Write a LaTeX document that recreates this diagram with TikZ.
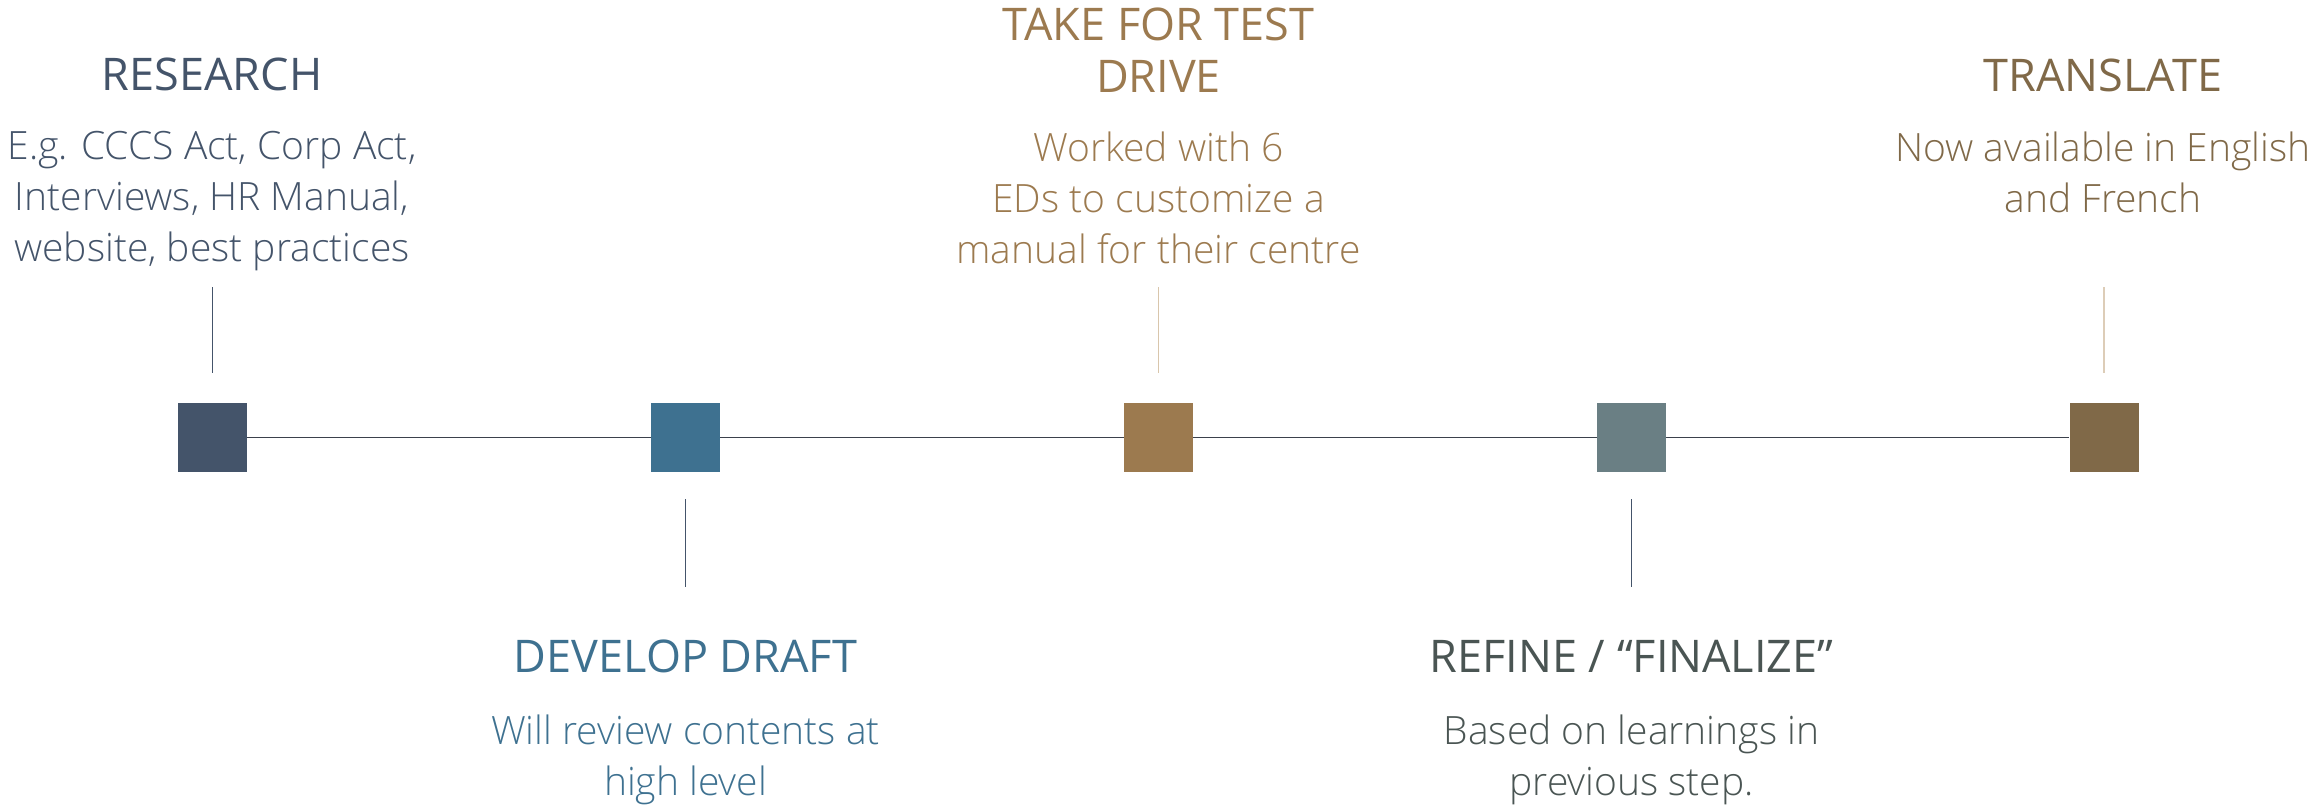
\documentclass[tikz,border=0pt]{standalone}
\usepackage{fontspec}
\setmainfont{Open Sans Light}
\newfontfamily\headfont{Open Sans}
\definecolor{cA}{HTML}{44546A}
\definecolor{cB}{HTML}{3E7190}
\definecolor{cC}{HTML}{9C7A4F}
\definecolor{cD}{HTML}{6A7F84}
\definecolor{cE}{HTML}{806948}
\definecolor{tD}{HTML}{4A5553}
\definecolor{lC}{HTML}{D9C6AC}
\definecolor{lE}{HTML}{DDCDB8}
\definecolor{tl}{HTML}{3B414C}
\begin{document}
\begin{tikzpicture}[x=1pt,y=-1pt,
  sq/.style={minimum size=69pt,inner sep=0pt,draw=none},
  head/.style={font=\headfont\fontsize{45}{52}\selectfont,align=center,anchor=base,inner sep=0pt},
  body/.style={font=\fontsize{39}{51}\selectfont,align=center,anchor=base,inner sep=0pt},
  tline/.style={draw=tl,line width=1.7pt},
  lnk/.style={line width=1.3pt}]
\useasboundingbox (0,0) rectangle (2310,804);
% squares
\node[sq,fill=cA] (s1) at (212.5,437.5) {};
\node[sq,fill=cB] (s2) at (685.5,437.5) {};
\node[sq,fill=cC] (s3) at (1158.5,437.5) {};
\node[sq,fill=cD] (s4) at (1631.5,437.5) {};
\node[sq,fill=cE] (s5) at (2104,437.5) {};
% timeline
\draw[tline] (s1.east) -- (s2.west);
\draw[tline] (s2.east) -- (s3.west);
\draw[tline] (s3.east) -- (s4.west);
\draw[tline] (s4.east) -- (s5.west);
% ticks
\draw[lnk,draw=cA] ([yshift=30pt]s1.north) -- ([yshift=116pt]s1.north);
\draw[lnk,draw=cA] ([yshift=-27pt]s2.south) -- ([yshift=-115pt]s2.south);
\draw[lnk,draw=lC] ([yshift=30pt]s3.north) -- ([yshift=116pt]s3.north);
\draw[lnk,draw=cA] ([yshift=-27pt]s4.south) -- ([yshift=-115pt]s4.south);
\draw[lnk,draw=lE] ([yshift=30pt]s5.north) -- ([yshift=116pt]s5.north);
% texts (base anchor = last line baseline)
\node[head,text=cA] (h1) at (212,90) {RESEARCH};
\node[body,text=cA] (b1) at (212,261) {E.g. CCCS Act, Corp Act,\\Interviews, HR Manual,\\website, best practices};
\node[head,text=cB] (h2) at (685.5,672) {DEVELOP DRAFT};
\node[body,text=cB] (b2) at (685.5,795) {Will review contents at\\high level};
\node[head,text=cC] (h3) at (1158.5,92) {TAKE FOR TEST\\DRIVE};
\node[body,text=cC] (b3) at (1158.5,263) {Worked with 6\\EDs to customize a\\manual for their centre};
\node[head,text=tD] (h4) at (1631.5,672) {REFINE / “FINALIZE”};
\node[body,text=tD] (b4) at (1631.5,795) {Based on learnings in\\previous step.};
\node[head,text=cE] (h5) at (2103,91) {TRANSLATE};
\node[body,text=cE] (b5) at (2103,212) {Now available in English\\and French};
\end{tikzpicture}
\end{document}
